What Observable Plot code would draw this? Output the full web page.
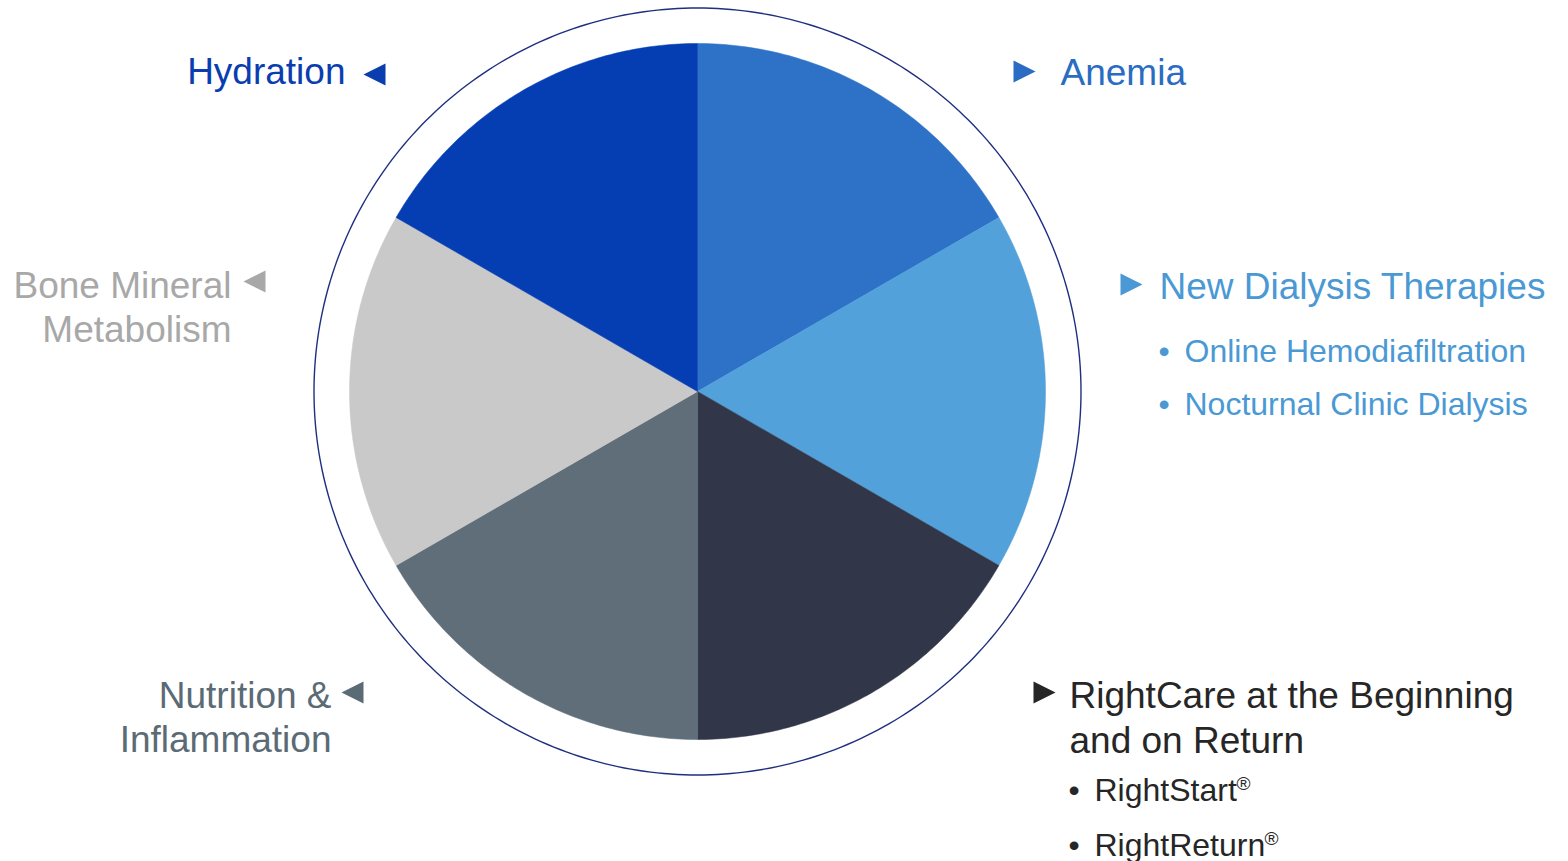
<!DOCTYPE html>
<html>
<head>
<meta charset="utf-8">
<script src="https://cdn.jsdelivr.net/npm/d3@7"></script>
<script src="https://cdn.jsdelivr.net/npm/@observablehq/plot@0.6"></script>
<style>
  html, body { margin: 0; padding: 0; background: #fff; }
  #chart svg { display: block; }
</style>
</head>
<body>
<div id="chart"></div>
<script>
// ---------- data ----------
const categories = ["Anemia", "New Dialysis Therapies", "RightCare", "Nutrition & Inflammation", "Bone Mineral Metabolism", "Hydration"];
const shares = [1, 1, 1, 1, 1, 1];
const sliceColors = ["#2d72c6", "#52a1da", "#313649", "#5f6e78", "#c9c9c9", "#053db3"];

// label texts (one entry per line)
const labelTexts = [
  "Hydration", "Anemia", "New Dialysis Therapies", "Online Hemodiafiltration", "Nocturnal Clinic Dialysis",
  "Bone Mineral", "Metabolism", "Nutrition &", "Inflammation",
  "RightCare at the Beginning", "and on Return", "RightStart", "RightReturn"
];
const labelColors = ["#0a3db0", "#2a6cc3", "#4a99d4", "#4a99d4", "#4a99d4",
  "#a8a8a8", "#a8a8a8", "#5b6b75", "#5b6b75", "#262626", "#262626", "#262626", "#262626"];

// ---------- layout ----------
const W = 1568, H = 861, CX = 697, CY = 391, R = 348, RING = 383.5 / 348;
const px = v => (v - CX) / R;
const py = v => (CY - v) / R;

// label layout: [anchorX, baseline, textAnchor, fontSize]
const labelLayout = [
  [345, 83, "end", 37], [1060, 84, "start", 37], [1159, 298, "start", 37],
  [1184, 361, "start", 32], [1184, 414, "start", 32],
  [231, 297, "end", 37], [231, 341, "end", 37],
  [331, 707, "end", 37], [331, 751, "end", 37],
  [1069, 707, "start", 37], [1069, 752, "start", 37],
  [1094, 800, "start", 32], [1094, 855, "start", 32]
];
const labels = labelTexts.map((t, i) => ({
  text: t, color: labelColors[i],
  x: px(labelLayout[i][0]), y: py(labelLayout[i][1] - 0.32 * labelLayout[i][3]),
  anchor: labelLayout[i][2], size: labelLayout[i][3]
}));

// bullets (index of line they belong to)
const bulletFor = [3, 4, 11, 12];
const bulletX = [1158, 1158, 1068, 1068];
const bullets = bulletFor.map((li, i) => ({
  x: px(bulletX[i]), y: labels[li].y, color: labels[li].color
}));

// registered marks after RightStart / RightReturn
const regFor = [11, 12];
const regX = [1236, 1264];
const regs = regFor.map((li, i) => ({ x: px(regX[i]), y: py(labelLayout[li][1] - 17) }));

// arrows: [cx, cy, direction], colors per category
const arrowLayout = [[374, 74, "left"], [1024, 71, "right"], [1131, 284, "right"],
  [254, 281, "left"], [352, 692, "left"], [1044, 692, "right"]];
const arrowColors = ["#0a3db0", "#2a6cc3", "#4a99d4", "#a8a8a8", "#5b6b75", "#262626"];
const arrows = arrowLayout.map((a, i) => ({ x: px(a[0]), y: py(a[1]), dir: a[2], color: arrowColors[i] }));

// ---------- pie geometry via d3.pie ----------
const arcs = d3.pie().sort(null).value(d => d)(shares);
const slicePts = [];
arcs.forEach((a, i) => {
  const n = 80;
  slicePts.push({ cat: categories[i], fill: sliceColors[i], x: 0, y: 0 });
  for (let k = 0; k <= n; k++) {
    const t = a.startAngle + (a.endAngle - a.startAngle) * k / n;
    slicePts.push({ cat: categories[i], fill: sliceColors[i], x: Math.sin(t), y: Math.cos(t) });
  }
  slicePts.push({ cat: categories[i], fill: sliceColors[i], x: 0, y: 0 });
});
const ringPts = d3.range(0, 361).map(d => {
  const t = d * Math.PI / 180;
  return { x: RING * Math.sin(t), y: RING * Math.cos(t) };
});

// custom triangle symbols
const triRight = { draw(ctx, size) { const r = Math.sqrt(size / Math.PI); ctx.moveTo(-r, -r); ctx.lineTo(r, 0); ctx.lineTo(-r, r); ctx.closePath(); } };
const triLeft = { draw(ctx, size) { const r = Math.sqrt(size / Math.PI); ctx.moveTo(r, -r); ctx.lineTo(-r, 0); ctx.lineTo(r, r); ctx.closePath(); } };

const font = "'Liberation Sans', Arial, Helvetica, sans-serif";

const textMarks = [37, 32].flatMap(fs => ["start", "end"].map(anchor =>
  Plot.text(labels.filter(d => d.size === fs && d.anchor === anchor), {
    x: "x", y: "y", text: "text", fill: "color", textAnchor: anchor,
    fontSize: fs, fontFamily: font, lineAnchor: "middle"
  })));

const chart = Plot.plot({
  width: W, height: H,
  margin: 0,
  x: { domain: [px(0), px(W)], axis: null },
  y: { domain: [py(H), py(0)], axis: null },
  color: { type: "identity" },
  style: { background: "#fff", fontFamily: font },
  marks: [
    Plot.line(slicePts, { x: "x", y: "y", z: "cat", fill: "fill", stroke: "fill", strokeWidth: 0.5, curve: "linear" }),
    Plot.line(ringPts, { x: "x", y: "y", stroke: "#1f2f80", strokeWidth: 1.4 }),
    Plot.dot(arrows.filter(d => d.dir === "right"), { x: "x", y: "y", fill: "color", r: 11, symbol: triRight }),
    Plot.dot(arrows.filter(d => d.dir === "left"), { x: "x", y: "y", fill: "color", r: 11, symbol: triLeft }),
    ...textMarks,
    Plot.text(bullets, { x: "x", y: "y", text: () => "•", fill: "color", fontSize: 32, fontFamily: font, textAnchor: "start", lineAnchor: "middle" }),
    Plot.text(regs, { x: "x", y: "y", text: () => "®", fill: "#262626", fontSize: 19, fontFamily: font, textAnchor: "start", lineAnchor: "middle" })
  ]
});
document.getElementById("chart").appendChild(chart);
</script>
</body>
</html>
